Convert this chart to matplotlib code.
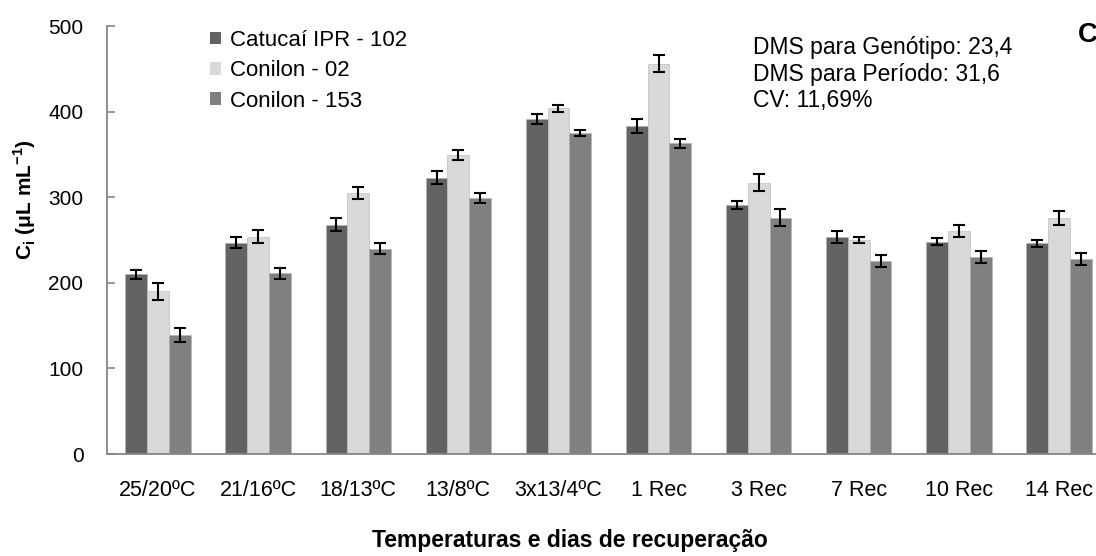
import numpy as np
import matplotlib
matplotlib.use('Agg')
import matplotlib.pyplot as plt
from matplotlib.patches import Patch

plt.rcParams['font.family'] = ['Liberation Sans', 'DejaVu Sans']
plt.rcParams['mathtext.fontset'] = 'custom'
plt.rcParams['mathtext.rm'] = 'Liberation Sans'
plt.rcParams['mathtext.bf'] = 'Liberation Sans:bold'

# periods: cold treatment temperatures then recovery days
periodos = ['25/20ºC', '21/16ºC', '18/13ºC', '13/8ºC', '3x13/4ºC',
            '1 Rec', '3 Rec', '7 Rec', '10 Rec', '14 Rec']
genotipos = ['Catucaí IPR - 102', 'Conilon - 02', 'Conilon - 153']

# Ci means per genotype
catucai = [210, 247, 268, 323, 391, 383, 291, 254, 248, 246]
conilon02 = [190, 254, 305, 349, 404, 456, 317, 250, 260, 276]
conilon153 = [139, 211, 240, 299, 375, 363, 276, 226, 230, 228]

# standard errors
err_catucai = [5, 6, 8, 8, 6, 8, 5, 7, 4, 4]
err_conilon02 = [10, 8, 7, 6, 4, 10, 10, 4, 7, 8]
err_conilon153 = [8, 6, 6, 6, 4, 5, 10, 7, 7, 7]

cores = ['#636363', '#d9d9d9', '#808080']

fig = plt.figure(figsize=(10.96, 5.56), dpi=100)
ax = fig.add_axes([107 / 1096, 1 - 454 / 556, 1002 / 1096, 428 / 556])

x = np.arange(len(periodos))
w = 0.218
series = [catucai, conilon02, conilon153]
erros = [err_catucai, err_conilon02, err_conilon153]
for i, (vals, errs) in enumerate(zip(series, erros)):
    ax.bar(x + (i - 1) * w, vals, w, color=cores[i], edgecolor='#b4b4b4',
           linewidth=0.4, yerr=errs, capsize=4.5,
           error_kw=dict(ecolor='black', elinewidth=1.5, capthick=1.5))

ax.set_xlim(-0.51, 9.5)
ax.set_ylim(0, 500)
ax.set_yticks([0, 100, 200, 300, 400, 500])
ax.set_xticks(x)
ax.set_xticklabels(periodos)

for s in ['top', 'right']:
    ax.spines[s].set_visible(False)
for s in ['left', 'bottom']:
    ax.spines[s].set_color('#868686')
    ax.spines[s].set_linewidth(1.3)

ax.tick_params(axis='y', direction='in', length=6, width=1.2, color='#868686',
               labelsize=15, pad=17)
ax.tick_params(axis='x', length=0, labelsize=15.5, pad=19)

handles = [Patch(facecolor=c, edgecolor='none') for c in cores]
fig.legend(handles, genotipos, loc='upper left',
           bbox_to_anchor=(210 / 1096, 1 - 30 / 556), frameon=False,
           fontsize=16, handlelength=0.5, handleheight=0.5,
           handletextpad=0.4, labelspacing=0.42, borderaxespad=0, borderpad=0)

fig.text(753 / 1096, 1 - 36 / 556,
         'DMS para Genótipo: 23,4\nDMS para Período: 31,6\nCV: 11,69%',
         fontsize=16.5, va='top', ha='left', linespacing=1.2)
fig.text(1078 / 1096, 1 - 35 / 556, 'C', fontsize=20, fontweight='bold',
         va='center', ha='left')

fig.text(570 / 1096, 1 - 540 / 556, 'Temperaturas e dias de recuperação',
         fontsize=16.5, fontweight='bold', ha='center', va='center')
fig.text(25 / 1096, 1 - 200 / 556,
         r'C$_{\mathbf{i}}$ ($\mathbf{\mu}$L mL$^{\mathbf{-1}}$)',
         fontsize=15, fontweight='bold', rotation=90, ha='center', va='center')

fig.savefig('out.png', dpi=100)
